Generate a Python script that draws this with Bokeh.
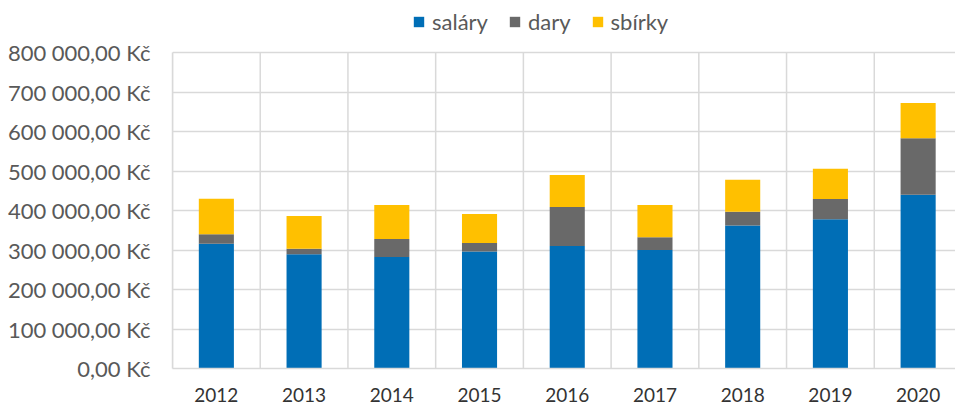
from bokeh.plotting import figure
from bokeh.models import Range1d, FixedTicker, Legend, LegendItem, ColumnDataSource
from bokeh.embed import file_html
from bokeh.resources import INLINE

years = ["2012", "2013", "2014", "2015", "2016", "2017", "2018", "2019", "2020"]
salary = [316000, 289000, 282000, 296000, 310000, 300000, 362000, 378000, 440000]
dary = [24000, 14000, 46000, 22000, 99000, 32000, 35000, 51000, 143000]
sbirky = [90000, 83000, 86000, 73000, 81000, 82000, 81000, 77000, 89000]
y_ticks = [0, 100000, 200000, 300000, 400000, 500000, 600000, 700000, 800000]
y_labels = ["0,00 Kč", "100 000,00 Kč", "200 000,00 Kč", "300 000,00 Kč", "400 000,00 Kč",
            "500 000,00 Kč", "600 000,00 Kč", "700 000,00 Kč", "800 000,00 Kč"]
series_names = ["saláry", "dary", "sbírky"]
colors = ["#006EB6", "#696969", "#FFC000"]

FONT = "Lato"
TXT = "#595959"
GRID = "#D9D9D9"

# layout (pixels)
W, H = 955, 410
LEFT = 172
TOP_GAP = 52        # space above the 800 000 gridline (legend lives there)
PLOT_H = 316        # height from 0 to 800 000
BOTTOM = H - TOP_GAP - PLOT_H

n = len(years)
xs = [i + 0.5 for i in range(n)]
b1 = salary
b2 = [a + b for a, b in zip(salary, dary)]
b3 = [a + b for a, b in zip(b2, sbirky)]
ymax = y_ticks[-1]
y_end = ymax * (TOP_GAP + PLOT_H) / PLOT_H

src = ColumnDataSource(dict(x=xs, s0=[0] * n, s1=b1, s2=b2, s3=b3))
bounds = list(range(n + 1))
gsrc = ColumnDataSource(dict(x=bounds, y0=[0] * len(bounds), y1=[ymax] * len(bounds)))

p = figure(width=W, height=H, output_backend="svg", toolbar_location=None,
           x_range=Range1d(0, 8.926), y_range=Range1d(0, y_end),
           min_border_left=LEFT, min_border_right=0, min_border_top=0, min_border_bottom=BOTTOM)
p.outline_line_color = None

# vertical gridlines between categories, limited to the value range
p.segment(x0="x", x1="x", y0="y0", y1="y1", source=gsrc, line_color=GRID, line_width=1.5)

r1 = p.vbar(x="x", bottom="s0", top="s1", width=0.4, source=src, fill_color=colors[0], line_color=None)
r2 = p.vbar(x="x", bottom="s1", top="s2", width=0.4, source=src, fill_color=colors[1], line_color=None)
r3 = p.vbar(x="x", bottom="s2", top="s3", width=0.4, source=src, fill_color=colors[2], line_color=None)

p.ygrid.ticker = FixedTicker(ticks=y_ticks)
p.ygrid.grid_line_color = GRID
p.ygrid.grid_line_width = 1.5
p.xgrid.grid_line_color = None

p.xaxis.ticker = FixedTicker(ticks=xs)
p.xaxis.major_label_overrides = {x: y for x, y in zip(xs, years)}
p.yaxis.ticker = FixedTicker(ticks=y_ticks)
p.yaxis.major_label_overrides = {t: l for t, l in zip(y_ticks, y_labels)}
p.yaxis.bounds = (0, ymax)
for ax in (p.xaxis, p.yaxis):
    ax.major_tick_line_color = None
    ax.minor_tick_line_color = None
    ax.major_tick_out = 0
    ax.major_tick_in = 0
    ax.minor_tick_out = 0
    ax.minor_tick_in = 0
    ax.axis_line_color = GRID
    ax.axis_line_width = 1.5
    ax.major_label_text_font = FONT
p.yaxis.major_label_text_font_size = "22px"
p.yaxis.major_label_text_color = TXT
p.xaxis.major_label_text_font_size = "19px"
p.xaxis.major_label_text_color = "#333333"
p.yaxis.major_label_standoff = 22
p.xaxis.major_label_standoff = 19

legend = Legend(items=[LegendItem(label=series_names[0], renderers=[r1]),
                       LegendItem(label=series_names[1], renderers=[r2]),
                       LegendItem(label=series_names[2], renderers=[r3])],
                orientation="horizontal", location=(240, TOP_GAP + PLOT_H - 35))
legend.border_line_color = None
legend.background_fill_alpha = 0
legend.padding = 0
legend.margin = 0
legend.spacing = 20
legend.glyph_width = 13
legend.glyph_height = 13
legend.label_standoff = 7
legend.label_text_font = FONT
legend.label_text_font_size = "22px"
legend.label_text_color = TXT
p.add_layout(legend, "center")

open("out.html", "w").write(file_html(p, INLINE))
